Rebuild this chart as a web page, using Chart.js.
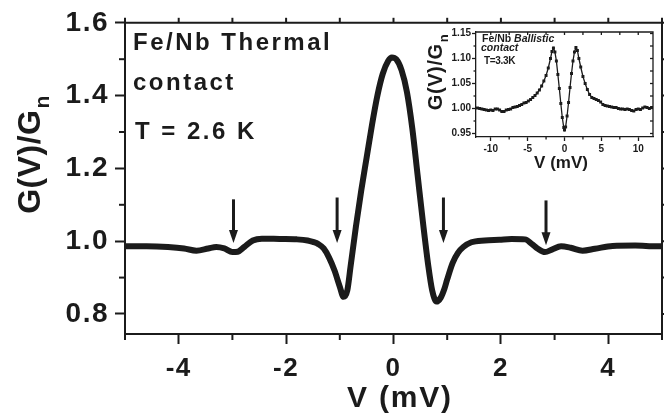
<!DOCTYPE html>
<html>
<head>
<meta charset="utf-8">
<script src="https://cdn.jsdelivr.net/npm/chart.js@4.4.1/dist/chart.umd.min.js"></script>
<style>
html,body{margin:0;padding:0;background:#fff;}
#wrap{position:relative;width:664px;height:416px;}
#main{position:absolute;left:0;top:0;}
#inset{position:absolute;left:410px;top:20px;}
</style>
</head>
<body>
<div id="wrap">
<canvas id="main" width="664" height="416"></canvas>
<canvas id="inset" width="252" height="165"></canvas>
</div>
<script>
// ---------- main panel data (Fe/Nb thermal contact, T = 2.6 K) ----------
const mainV = [-5.0,-4.6,-4.2,-3.9,-3.67,-3.45,-3.3,-3.15,-3.0,-2.9,-2.78,-2.62,-2.45,-2.12,-1.8,-1.6,-1.5,-1.4,-1.3,-1.2,-1.1,-1.0,-0.93,-0.86,-0.8,-0.7,-0.6,-0.5,-0.4,-0.3,-0.2,-0.1,-0.03,0.05,0.15,0.25,0.35,0.45,0.55,0.65,0.72,0.8,0.88,0.95,1.0,1.1,1.2,1.3,1.45,1.7,1.97,2.2,2.45,2.58,2.68,2.82,2.95,3.12,3.3,3.52,3.75,4.08,4.5,4.9,5.0];
const mainG = [0.986,0.986,0.984,0.980,0.974,0.980,0.984,0.980,0.970,0.971,0.984,1.002,1.007,1.006,1.005,1.002,0.998,0.992,0.980,0.955,0.920,0.875,0.847,0.865,0.930,1.040,1.140,1.230,1.320,1.400,1.460,1.495,1.505,1.500,1.470,1.410,1.310,1.180,1.050,0.930,0.865,0.834,0.845,0.870,0.895,0.940,0.968,0.984,0.997,1.002,1.004,1.006,1.005,0.992,0.980,0.970,0.977,0.986,0.982,0.974,0.979,0.987,0.988,0.986,0.986];
const xMajor = [-4,-2,0,2,4];
const xMinor = [-5,-3,-1,1,3,5];
const yMajor = [0.8,1.0,1.2,1.4,1.6];
const yMinor = [0.9,1.1,1.3,1.5];
// arrows marking the dips
const arrowV   = [-2.98,-1.05,0.93,2.84];
const arrowTop = [1.115,1.12,1.12,1.112];
const arrowTip = [0.995,0.995,0.995,0.989];
const mainNotes = ["Fe/Nb Thermal","contact","T = 2.6 K"];

// ---------- inset data (Fe/Nb ballistic contact, T = 3.3 K) ----------
const insetV = [-11.8,-11.5,-11.2,-10.9,-10.6,-10.3,-10.0,-9.7,-9.4,-9.1,-8.8,-8.5,-8.2,-7.9,-7.6,-7.3,-7.0,-6.7,-6.4,-6.1,-5.8,-5.5,-5.2,-4.9,-4.6,-4.3,-4.0,-3.7,-3.4,-3.1,-2.8,-2.5,-2.2,-1.9,-1.7,-1.5,-1.3,-1.1,-0.9,-0.7,-0.5,-0.3,-0.1,0.0,0.15,0.35,0.55,0.75,0.95,1.15,1.35,1.55,1.75,1.95,2.2,2.5,2.8,3.1,3.4,3.7,4.0,4.3,4.6,4.9,5.2,5.5,5.8,6.1,6.4,6.7,7.0,7.3,7.6,7.9,8.2,8.5,8.8,9.1,9.4,9.7,10.0,10.3,10.6,10.9,11.2,11.5,11.8];
const insetG = [1.001,1.000,0.999,0.998,0.997,0.996,0.997,0.996,0.999,0.999,0.997,0.994,0.994,0.997,0.998,0.999,1.002,1.003,1.004,1.006,1.008,1.011,1.012,1.015,1.018,1.022,1.026,1.031,1.037,1.045,1.055,1.066,1.081,1.100,1.114,1.121,1.113,1.095,1.068,1.040,1.010,0.982,0.962,0.957,0.963,0.985,1.012,1.042,1.070,1.095,1.113,1.122,1.116,1.100,1.083,1.064,1.050,1.038,1.028,1.022,1.020,1.018,1.016,1.013,1.008,1.006,1.005,1.004,1.003,1.002,1.002,1.000,0.999,0.999,0.998,0.999,0.998,0.996,0.995,0.998,0.999,0.998,1.001,1.003,1.002,1.000,1.002];
const insetXMajor = [-10,-5,0,5,10];
const insetXMinor = [-7.5,-2.5,2.5,7.5];
const insetYMajor = [0.95,1.00,1.05,1.10,1.15];
const insetYMinor = [0.975,1.025,1.075,1.125];

const INK = '#1b1b1b';
const FONT = '"Liberation Sans", Arial, sans-serif';

function line(ctx,x1,y1,x2,y2){ctx.beginPath();ctx.moveTo(x1,y1);ctx.lineTo(x2,y2);ctx.stroke();}

const mainDecor = {
  id:'mainDecor',
  beforeDraw(chart){ chart.ctx.letterSpacing='1.5px'; },
  afterDraw(chart){
    const {ctx, chartArea:a, scales:{x,y}} = chart;
    ctx.save();
    ctx.strokeStyle = INK; ctx.fillStyle = INK; ctx.lineWidth = 2;
    // mirror frame
    ctx.beginPath(); ctx.moveTo(a.left,a.top); ctx.lineTo(a.right,a.top); ctx.lineTo(a.right,a.bottom); ctx.stroke();
    xMinor.forEach(v=>{const p=x.getPixelForValue(v); line(ctx,p,a.bottom,p,a.bottom+6);});
    yMinor.forEach(v=>{const p=y.getPixelForValue(v); line(ctx,a.left-6,p,a.left,p);});
    xMajor.concat(xMinor).forEach(v=>{const p=x.getPixelForValue(v); line(ctx,p,a.top,p,a.top-5);});
    yMajor.concat(yMinor).forEach(v=>{const p=y.getPixelForValue(v); line(ctx,a.right,p,a.right+5,p);});
    // arrows
    arrowV.forEach((v,i)=>{
      const px = x.getPixelForValue(v), pt = y.getPixelForValue(arrowTop[i]), pb = y.getPixelForValue(arrowTip[i]);
      ctx.lineWidth = 3;
      line(ctx,px,pt,px,pb-10);
      ctx.beginPath(); ctx.moveTo(px-4.5,pb-13); ctx.lineTo(px+4.5,pb-13); ctx.lineTo(px,pb); ctx.closePath(); ctx.fill();
    });
    // annotations
    ctx.letterSpacing = '2.5px';
    ctx.font = 'bold 24px '+FONT; ctx.textAlign='left'; ctx.textBaseline='alphabetic';
    ctx.fillText(mainNotes[0], 133, 50);
    ctx.fillText(mainNotes[1], 133, 90);
    ctx.fillText(mainNotes[2], 135, 139);
    // x title
    ctx.letterSpacing = '1.8px';
    ctx.font = 'bold 30px '+FONT; ctx.textAlign='center';
    ctx.fillText('V (mV)', 400, 407);
    // y title (rotated) with subscript
    ctx.save();
    ctx.translate(40, 155); ctx.rotate(-Math.PI/2);
    ctx.letterSpacing = '0.5px';
    const main = 'G(V)/G';
    ctx.font = 'bold 32px '+FONT; const w1 = ctx.measureText(main).width;
    ctx.font = 'bold 21px '+FONT; const w2 = ctx.measureText('n').width;
    const start = -(w1+w2)/2;
    ctx.textAlign='left';
    ctx.font = 'bold 32px '+FONT; ctx.fillText(main, start, 0);
    ctx.font = 'bold 21px '+FONT; ctx.fillText('n', start+w1+1, 9);
    ctx.restore();
    ctx.restore();
  }
};

new Chart(document.getElementById('main'), {
  type:'scatter',
  data:{datasets:[{
    data: mainV.map((v,i)=>({x:v,y:mainG[i]})),
    showLine:true, borderColor:INK, borderWidth:6, pointRadius:0,
    tension:0.4, cubicInterpolationMode:'monotone', borderCapStyle:'round', borderJoinStyle:'round'
  }]},
  options:{
    responsive:false, animation:false, devicePixelRatio:1,
    layout:{padding:{top:22,right:2,left:0,bottom:0}},
    plugins:{legend:{display:false},tooltip:{enabled:false}},
    scales:{
      x:{type:'linear', min:-5, max:5,
        afterBuildTicks:s=>{s.ticks = xMajor.map(v=>({value:v}));},
        afterFit:s=>{s.height = 82;},
        ticks:{autoSkip:false, maxRotation:0, padding:9, color:INK, font:{family:FONT, size:26, weight:'bold'}, callback:v=>String(v)},
        grid:{drawOnChartArea:false, drawTicks:true, tickLength:10, tickWidth:2, tickColor:INK},
        border:{display:true, color:INK, width:2}
      },
      y:{type:'linear', min:0.745, max:1.6,
        afterBuildTicks:s=>{s.ticks = yMajor.map(v=>({value:v}));},
        afterFit:s=>{s.width = 125;},
        ticks:{autoSkip:false, padding:6, color:INK, font:{family:FONT, size:28, weight:'bold'}, callback:v=>v.toFixed(1)},
        grid:{drawOnChartArea:false, drawTicks:true, tickLength:10, tickWidth:2, tickColor:INK},
        border:{display:true, color:INK, width:2}
      }
    }
  },
  plugins:[mainDecor]
});

const insetDecor = {
  id:'insetDecor',
  beforeDraw(chart){ chart.ctx.letterSpacing='0px'; },
  afterDraw(chart){
    const {ctx, chartArea:a, scales:{x,y}} = chart;
    ctx.save();
    ctx.strokeStyle = INK; ctx.fillStyle = INK; ctx.lineWidth = 1.3;
    ctx.beginPath(); ctx.moveTo(a.left,a.top); ctx.lineTo(a.right,a.top); ctx.lineTo(a.right,a.bottom); ctx.stroke();
    insetXMinor.forEach(v=>{const p=x.getPixelForValue(v); line(ctx,p,a.bottom,p,a.bottom+2.5);});
    insetYMinor.forEach(v=>{const p=y.getPixelForValue(v); line(ctx,a.left-2.5,p,a.left,p);});
    insetXMajor.concat(insetXMinor).forEach(v=>{const p=x.getPixelForValue(v); line(ctx,p,a.top,p,a.top+3);});
    insetYMajor.concat(insetYMinor).forEach(v=>{const p=y.getPixelForValue(v); line(ctx,a.right-3,p,a.right,p);});
    // annotations
    ctx.textAlign='left'; ctx.textBaseline='alphabetic';
    ctx.font = 'bold 10.5px '+FONT; ctx.fillText('Fe/Nb ', 72, 21.7);
    const w = ctx.measureText('Fe/Nb ').width;
    ctx.font = 'italic bold 10.5px '+FONT; ctx.fillText('Ballistic', 72+w, 21.7);
    ctx.fillText('contact', 71, 30.5);
    ctx.font = 'bold 10px '+FONT; ctx.letterSpacing='-0.3px'; ctx.fillText('T=3.3K', 74, 44.3);
    ctx.letterSpacing='0px';
    // x title
    ctx.font = 'bold 17px '+FONT; ctx.textAlign='center';
    ctx.fillText('V (mV)', 151, 148.3);
    // y title
    ctx.save();
    ctx.translate(32, 52.5); ctx.rotate(-Math.PI/2);
    ctx.letterSpacing='0.6px';
    ctx.font = 'bold 20px '+FONT; const w1 = ctx.measureText('G(V)/G').width;
    ctx.font = 'bold 13px '+FONT; const w2 = ctx.measureText('n').width;
    const s = -(w1+w2)/2; ctx.textAlign='left';
    ctx.font = 'bold 20px '+FONT; ctx.fillText('G(V)/G', s, 0);
    ctx.font = 'bold 13px '+FONT; ctx.fillText('n', s+w1+1, 6);
    ctx.restore();
    ctx.restore();
  }
};

new Chart(document.getElementById('inset'), {
  type:'scatter',
  data:{datasets:[{
    data: insetV.map((v,i)=>({x:v,y:insetG[i]})),
    showLine:true, borderColor:INK, borderWidth:1.3, backgroundColor:INK,
    pointStyle:'rect', pointRadius:2.1, pointBorderWidth:0, tension:0
  }]},
  options:{
    responsive:false, animation:false, devicePixelRatio:1,
    layout:{padding:{top:12,right:9,left:0,bottom:0}},
    plugins:{legend:{display:false},tooltip:{enabled:false}},
    scales:{
      x:{type:'linear', min:-12, max:12,
        afterBuildTicks:s=>{s.ticks = insetXMajor.map(v=>({value:v}));},
        afterFit:s=>{s.height = 48;},
        ticks:{autoSkip:false, maxRotation:0, padding:2, color:INK, font:{family:FONT, size:10, weight:'bold'}, callback:v=>String(v)},
        grid:{drawOnChartArea:false, drawTicks:true, tickLength:4, tickWidth:1.3, tickColor:INK},
        border:{display:true, color:INK, width:1.3}
      },
      y:{type:'linear', min:0.943, max:1.153,
        afterBuildTicks:s=>{s.ticks = insetYMajor.map(v=>({value:v}));},
        afterFit:s=>{s.width = 66;},
        ticks:{autoSkip:false, padding:1, color:INK, font:{family:FONT, size:10, weight:'bold'}, callback:v=>v.toFixed(2)},
        grid:{drawOnChartArea:false, drawTicks:true, tickLength:4, tickWidth:1.3, tickColor:INK},
        border:{display:true, color:INK, width:1.3}
      }
    }
  },
  plugins:[insetDecor]
});
</script>
</body>
</html>
